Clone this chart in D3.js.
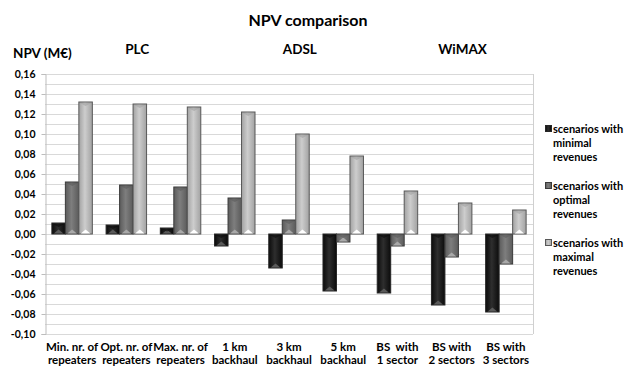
<!DOCTYPE html>
<html>
<head>
<meta charset="utf-8">
<script src="https://cdn.jsdelivr.net/npm/d3@7"></script>
<style>
  html, body { margin: 0; padding: 0; background: #fff; }
  svg { display: block; }
  text { font-family: Lato, "Open Sans", sans-serif; font-weight: 700; fill: #000; }
</style>
</head>
<body>
<svg id="chart" width="628" height="367"></svg>
<script>
// Categories (two label lines each) and the technology each belongs to
const categories = [
  ["Min. nr. of", "repeaters"],
  ["Opt. nr. of", "repeaters"],
  ["Max. nr. of", "repeaters"],
  ["1 km", "backhaul"],
  ["3 km", "backhaul"],
  ["5 km", "backhaul"],
  ["BS  with", "1 sector"],
  ["BS with", "2 sectors"],
  ["BS with", "3 sectors"]
];
const technologies = ["PLC", "ADSL", "WiMAX"];

// Series names and NPV values in M€
const seriesNames = [
  ["scenarios with", "minimal", "revenues"],
  ["scenarios with", "optimal", "revenues"],
  ["scenarios with", "maximal", "revenues"]
];
const minimalRevenues = [0.011, 0.009, 0.006, -0.012, -0.034, -0.057, -0.059, -0.071, -0.078];
const optimalRevenues = [0.052, 0.049, 0.047, 0.036, 0.014, -0.008, -0.012, -0.023, -0.030];
const maximalRevenues = [0.132, 0.130, 0.127, 0.122, 0.100, 0.078, 0.043, 0.031, 0.024];

const yTicks = [-0.10, -0.08, -0.06, -0.04, -0.02, 0.00, 0.02, 0.04, 0.06, 0.08, 0.10, 0.12, 0.14, 0.16];

const seriesValues = [minimalRevenues, optimalRevenues, maximalRevenues];

const svg = d3.select("#chart");
const plot = { left: 45, right: 533, top: 74, bottom: 334 };

const y = d3.scaleLinear().domain([-0.10, 0.16]).range([plot.bottom, plot.top]);
const x0 = d3.scaleBand().domain(d3.range(categories.length)).range([plot.left, plot.right]);
const x1 = d3.scaleBand().domain(d3.range(seriesValues.length))
  .range([0, x0.bandwidth()]).paddingOuter(0.51);

// Fill shades for each series: edge, centre, bevel highlight
const shades = [
  { edge: "#0b0b0b", mid: "#2e2e2e", bevel: "#5a5a5a", stroke: "#262626" },
  { edge: "#5b5b5b", mid: "#7e7e7e", bevel: "#a9a9a9", stroke: "#3a3a3a" },
  { edge: "#a2a2a2", mid: "#cdcdcd", bevel: "#ffffff", stroke: "#585858" }
];

const defs = svg.append("defs");
shades.forEach((s, i) => {
  const g = defs.append("linearGradient").attr("id", "bar-grad-" + i)
    .attr("x1", "0%").attr("x2", "100%").attr("y1", "0%").attr("y2", "0%");
  g.append("stop").attr("offset", "0%").attr("stop-color", s.edge);
  g.append("stop").attr("offset", "45%").attr("stop-color", s.mid);
  g.append("stop").attr("offset", "100%").attr("stop-color", s.edge);
});

// Gridlines every 0.01
const minor = d3.range(-10, 17).map(v => v / 100);
svg.append("g").selectAll("line").data(minor).join("line")
  .attr("x1", plot.left).attr("x2", plot.right)
  .attr("y1", d => Math.round(y(d)) + 0.5).attr("y2", d => Math.round(y(d)) + 0.5)
  .attr("stroke", "#d9d9d9").attr("stroke-width", 1);

// Right border of the plot area
svg.append("line")
  .attr("x1", plot.right + 0.5).attr("x2", plot.right + 0.5)
  .attr("y1", plot.top).attr("y2", plot.bottom)
  .attr("stroke", "#d0d0d0");

// Y axis
const yAxis = d3.axisLeft(y).tickValues(yTicks).tickSize(4).tickPadding(6)
  .tickFormat(d => d3.format(".2f")(d).replace(".", ",").replace("−", "-"));
const ya = svg.append("g").attr("transform", `translate(${plot.left + 0.5},0)`).call(yAxis);
ya.select(".domain").attr("stroke", "#bdbdbd");
ya.selectAll(".tick line").attr("stroke", "#bdbdbd");
ya.selectAll(".tick text").style("font-size", "10.5px").style("font-family", "Lato, sans-serif")
  .style("font-weight", "700").attr("fill", "#000");

// Bars
const groups = svg.append("g").selectAll("g").data(categories).join("g")
  .attr("transform", (d, i) => `translate(${x0(i)},0)`);

groups.each(function (d, ci) {
  const g = d3.select(this);
  seriesValues.forEach((vals, si) => {
    const v = vals[ci];
    const bx = x1(si), bw = x1.bandwidth();
    const top = y(Math.max(0, v)), bot = y(Math.min(0, v));
    const h = bot - top;
    g.append("rect")
      .attr("x", bx).attr("y", top).attr("width", bw).attr("height", h)
      .attr("fill", `url(#bar-grad-${si})`)
      .attr("stroke", shades[si].stroke).attr("stroke-width", 1);
    // bevel: small triangle at the bottom edge
    const th = Math.min(4, h * 0.6);
    g.append("path")
      .attr("d", `M${bx + 2},${bot - 0.5} L${bx + bw / 2},${bot - 0.5 - th} L${bx + bw - 2},${bot - 0.5} Z`)
      .attr("fill", shades[si].bevel);
    // bevel: dark strip at the top edge
    g.append("path")
      .attr("d", `M${bx + 1},${top + 1} L${bx + bw - 1},${top + 1} L${bx + bw / 2},${top + 1 + Math.min(3, h * 0.4)} Z`)
      .attr("fill", shades[si].edge).attr("opacity", 0.6);
  });
});

// Category labels
const xl = svg.append("g").selectAll("text").data(categories).join("text")
  .attr("text-anchor", "middle")
  .style("font-size", "11.5px")
  .attr("x", (d, i) => x0(i) + x0.bandwidth() / 2);
xl.selectAll("tspan").data(d => d).join("tspan")
  .attr("x", function () { return d3.select(this.parentNode).attr("x"); })
  .attr("y", (d, i) => 351 + i * 13)
  .style("white-space", "pre")
  .text(d => d);

// Technology headers over their three categories
svg.append("g").selectAll("text").data(technologies).join("text")
  .attr("x", (d, i) => x0(i * 3 + 1) + x0.bandwidth() * 0.7)
  .attr("y", 54)
  .attr("text-anchor", "middle")
  .style("font-size", "13.5px")
  .text(d => d);

// Title and axis title
svg.append("text").attr("x", 308).attr("y", 26).attr("text-anchor", "middle")
  .style("font-size", "16px").text("NPV comparison");
svg.append("text").attr("x", 13).attr("y", 58)
  .style("font-size", "13.5px").text("NPV (M€)");

// Legend
const legend = svg.append("g").selectAll("g").data(seriesNames).join("g")
  .attr("transform", (d, i) => `translate(545,${129 + i * 57})`);
legend.append("rect").attr("x", 0.5).attr("y", -3.5).attr("width", 6).attr("height", 6)
  .attr("fill", (d, i) => `url(#bar-grad-${i})`)
  .attr("stroke", (d, i) => shades[i].stroke);
legend.append("text").attr("x", 8)
  .style("font-size", "11px")
  .selectAll("tspan").data(d => d).join("tspan")
  .attr("x", 8).attr("y", (d, i) => 4 + i * 14).text(d => d);
</script>
</body>
</html>
